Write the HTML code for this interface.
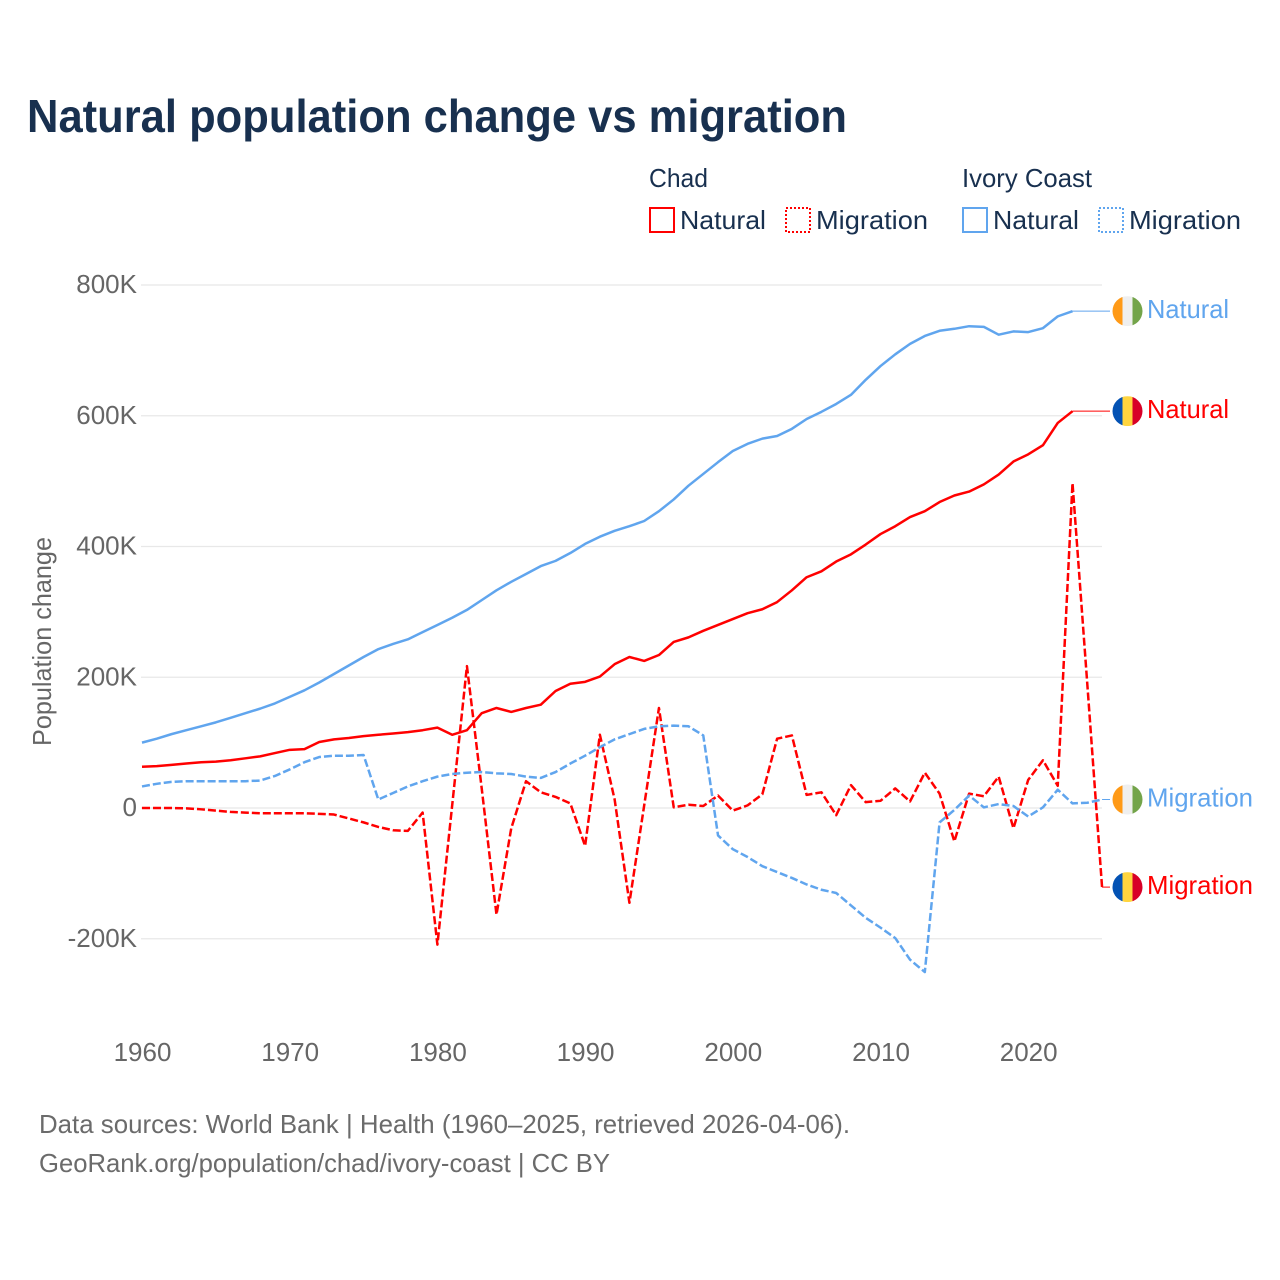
<!DOCTYPE html>
<html lang="en">
<head>
<meta charset="utf-8">
<title>Natural population change vs migration</title>
<style>
html,body{margin:0;padding:0;background:#fff;}
svg{display:block;font-family:"Liberation Sans",sans-serif;}
</style>
</head>
<body>
<svg id="chart" xmlns="http://www.w3.org/2000/svg" width="1280" height="1280" viewBox="0 0 1280 1280">
  <defs><clipPath id="flag-clip"><circle cx="0" cy="0" r="15"></circle></clipPath></defs>
  <rect x="0" y="0" width="1280" height="1280" fill="#fff"></rect>
  <text x="27" y="132" font-size="46" font-weight="700" fill="#18304f" textLength="820" lengthAdjust="spacingAndGlyphs">Natural population change vs migration</text>

  <g font-size="26" fill="#18304f">
    <text x="649" y="187" textLength="59" lengthAdjust="spacingAndGlyphs">Chad</text>
    <text x="962" y="187" textLength="130" lengthAdjust="spacingAndGlyphs">Ivory Coast</text>
    <g>
      <rect x="650" y="208" width="24" height="24" fill="none" stroke="#ff0000" stroke-width="2"></rect>
      <text x="680" y="229" textLength="86" lengthAdjust="spacingAndGlyphs">Natural</text>
    </g>
    <g>
      <rect x="786" y="208" width="24" height="24" fill="none" stroke="#ff0000" stroke-width="2" stroke-dasharray="2 2"></rect>
      <text x="816" y="229" textLength="112" lengthAdjust="spacingAndGlyphs">Migration</text>
    </g>
    <g>
      <rect x="963" y="208" width="24" height="24" fill="none" stroke="#60a5ee" stroke-width="2"></rect>
      <text x="993" y="229" textLength="86" lengthAdjust="spacingAndGlyphs">Natural</text>
    </g>
    <g>
      <rect x="1099" y="208" width="24" height="24" fill="none" stroke="#60a5ee" stroke-width="2" stroke-dasharray="2 2"></rect>
      <text x="1129" y="229" textLength="112" lengthAdjust="spacingAndGlyphs">Migration</text>
    </g>
  </g>

  <g id="grid"></g>
  <g id="y-ticks" font-size="26" fill="#666666" text-anchor="end"></g>
  <g id="x-ticks" font-size="26" fill="#666666" text-anchor="middle"></g>
  <text transform="translate(51,746) rotate(-90)" font-size="26" fill="#666666" textLength="209" lengthAdjust="spacingAndGlyphs">Population change</text>
  <g id="series"></g>
  <g id="end-labels" font-size="26"></g>

  <g font-size="26" fill="#6b6b6b">
    <text x="39" y="1133" textLength="811" lengthAdjust="spacingAndGlyphs">Data sources: World Bank | Health (1960–2025, retrieved 2026-04-06).</text>
    <text x="39" y="1172" textLength="571" lengthAdjust="spacingAndGlyphs">GeoRank.org/population/chad/ivory-coast | CC BY</text>
  </g>
</svg>
<script>
const startYear = 1960;
const yTickValues = [800, 600, 400, 200, 0, -200];
const yTickLabels = ["800K", "600K", "400K", "200K", "0", "-200K"];
const xTickYears = [1960, 1970, 1980, 1990, 2000, 2010, 2020];

// Values in thousands, one per year from 1960
const ivoryNatural = [
  100,106,113,119,125,131,138,145,152,160,
  170,180,192,205,218,231,243,251,258,269,
  280,291,303,318,333,346,358,370,378,390,
  404,415,424,431,439,454,472,493,511,529,
  546,557,565,569,580,595,606,618,632,655,
  676,694,710,722,730,733,737,736,724,729,
  728,734,752,760
];
const chadNatural = [
  63,64,66,68,70,71,73,76,79,84,
  89,90,101,105,107,110,112,114,116,119,
  123,112,119,145,153,147,153,158,179,190,
  193,201,220,231,225,234,254,261,271,280,
  289,298,304,315,333,353,362,377,388,403,
  419,431,445,454,468,478,484,495,510,530,
  541,555,589,607
];
const ivoryMigration = [
  33,37,40,41,41,41,41,41,42,49,
  59,70,78,80,80,81,13,23,33,41,
  48,52,54,55,53,52,48,46,55,68,
  80,93,105,113,121,125,126,125,111,-42,
  -63,-75,-89,-98,-107,-117,-125,-130,-149,-168,
  -183,-199,-232,-251,-22,-3,19,1,6,3,
  -13,1,28,7,8,13
];
const chadMigration = [
  0,0,0,-0.5,-2,-4,-6,-7,-8,-8,
  -8,-8,-9,-10,-16,-22,-29,-34,-35,-7,
  -209,4,217,30,-163,-31,41,24,17,7,
  -58,112,13,-145,4,153,1,5,3,19,
  -4,4,21,106,111,20,24,-11,35,9,
  11,30,10,54,22,-51,22,18,48,-31,
  43,73,34,497,190,-121
];

const xScale = (year) => 142 + (year - startYear) * 14.77;
const yScale = (v) => 808 - v * 0.65375;

const svgNS = "http://www.w3.org/2000/svg";
const make = (tag) => document.createElementNS(svgNS, tag);
const gridG = document.getElementById("grid");
const yTicksG = document.getElementById("y-ticks");
const xTicksG = document.getElementById("x-ticks");
const seriesG = document.getElementById("series");
const labelsG = document.getElementById("end-labels");

yTickValues.forEach((v, i) => {
  const line = make("line");
  
  
  line.setAttribute("x1", 141);
  line.setAttribute("x2", 1102);
  line.setAttribute("y1", yScale(v));
  line.setAttribute("y2", yScale(v));
  line.setAttribute("stroke", "#e8e8e8");
  line.setAttribute("stroke-width", 1.2);
  gridG.appendChild(line);

  const t = make("text");
  
  
  t.setAttribute("x", 137);
  t.setAttribute("y", yScale(v) + 8);
  t.textContent = yTickLabels[i];
  yTicksG.appendChild(t);
});

xTickYears.forEach((yr) => {
  const t = make("text");
  
  
  t.setAttribute("x", xScale(yr) + 0.5);
  t.setAttribute("y", 1061);
  t.textContent = String(yr);
  xTicksG.appendChild(t);
});

function pathFrom(values) {
  return values.map((v, i) => (i ? "L" : "M") + xScale(startYear + i).toFixed(2) + " " + yScale(v).toFixed(2)).join(" ");
}

function drawSeries(values, color, dashed) {
  const p = make("path");
  
  
  p.setAttribute("d", pathFrom(values));
  p.setAttribute("fill", "none");
  p.setAttribute("stroke", color);
  p.setAttribute("stroke-width", 2.5);
  p.setAttribute("stroke-linejoin", "round");
  if (dashed) p.setAttribute("stroke-dasharray", "8 3");
  seriesG.appendChild(p);

  const lastX = xScale(startYear + values.length - 1);
  const lastY = yScale(values[values.length - 1]);
  const leader = make("line");
  
  
  leader.setAttribute("x1", lastX);
  leader.setAttribute("x2", 1110);
  leader.setAttribute("y1", lastY);
  leader.setAttribute("y2", lastY);
  leader.setAttribute("stroke", color);
  leader.setAttribute("stroke-width", 1);
  seriesG.appendChild(leader);
}

function drawEndLabel(value, text, width, color, flagColors) {
  const g = make("g");
  
  
  g.setAttribute("transform", "translate(1127.5 " + yScale(value).toFixed(2) + ")");
  const flag = make("g");
  
  
  flag.setAttribute("clip-path", "url(#flag-clip)");
  flagColors.forEach((c, i) => {
    const r = make("rect");
    
    
    r.setAttribute("x", -15 + i * 10);
    r.setAttribute("y", -15);
    r.setAttribute("width", 10);
    r.setAttribute("height", 30);
    r.setAttribute("fill", c);
    flag.appendChild(r);
  });
  g.appendChild(flag);
  const t = make("text");
  
  
  t.setAttribute("x", 19.5);
  t.setAttribute("y", 7);
  t.setAttribute("fill", color);
  t.setAttribute("textLength", width);
  t.setAttribute("lengthAdjust", "spacingAndGlyphs");
  t.textContent = text;
  g.appendChild(t);
  labelsG.appendChild(g);
}

const blue = "#60a5ee";
const red = "#ff0000";
const ivoryFlag = ["#ff9a17", "#efefef", "#73a44a"];
const chadFlag = ["#0352b4", "#ffd53f", "#d80027"];

drawSeries(ivoryNatural, blue, false);
drawSeries(chadNatural, red, false);
drawSeries(chadMigration, red, true);
drawSeries(ivoryMigration, blue, true);

drawEndLabel(ivoryNatural[ivoryNatural.length - 1], "Natural", 82, blue, ivoryFlag);
drawEndLabel(chadNatural[chadNatural.length - 1], "Natural", 82, red, chadFlag);
drawEndLabel(ivoryMigration[ivoryMigration.length - 1], "Migration", 106, blue, ivoryFlag);
drawEndLabel(chadMigration[chadMigration.length - 1], "Migration", 106, red, chadFlag);
</script>
</body>
</html>
